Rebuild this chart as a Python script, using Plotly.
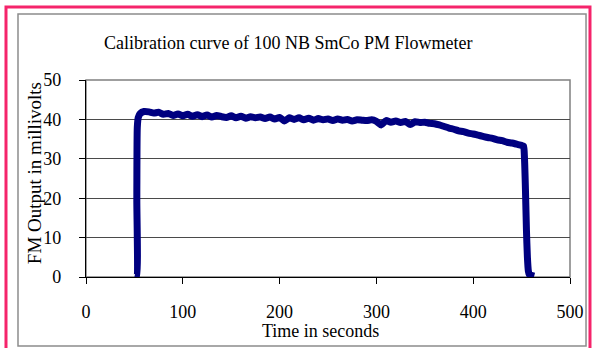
import plotly.graph_objects as go

# ---- data ----
time_s = [50, 52, 52.5, 53, 54, 56,
          60, 65, 70, 75, 80, 85, 90, 95, 100, 105, 110, 115, 120, 125, 130, 135,
          140, 145, 150, 155, 160, 165, 170, 175, 180, 185, 190, 195, 200, 205,
          210, 215, 220, 225, 230, 235, 240, 245, 250, 255, 260, 265, 270, 275,
          280, 285, 290, 295, 300, 305, 310, 315, 320, 325, 330, 335, 340, 345,
          350, 355, 360, 365, 370, 375, 380, 385, 390, 395, 400, 405, 410, 415,
          420, 425, 430, 435, 440, 445, 450,
          452, 453, 454, 455, 456, 457, 458, 460, 463]
output_mv = [0, 0, 20, 38, 40.5, 41.5,
             42.0, 41.9, 41.6, 41.8, 41.3, 41.5, 41.0, 41.4, 40.9, 41.3, 40.8, 41.2, 40.7, 41.1, 40.6, 41.0,
             40.7, 40.5, 40.9, 40.4, 40.8, 40.3, 40.7, 40.4, 40.6, 40.2, 40.6, 40.1, 40.5, 39.6,
             40.4, 40.0, 40.4, 39.9, 40.3, 39.8, 40.2, 39.9, 40.1, 39.7, 40.1, 39.8, 40.0, 39.6,
             39.9, 39.8, 39.7, 39.9, 39.5, 38.6, 39.7, 39.3, 39.6, 39.2, 39.5, 38.7, 39.4, 39.2,
             39.3, 39.0, 38.9, 38.6, 38.2, 37.8, 37.5, 37.1, 36.9, 36.5, 36.3, 36.0, 35.7, 35.4,
             35.2, 34.8, 34.6, 34.2, 34.0, 33.7, 33.4,
             33.2, 30.0, 22.0, 12.0, 5.0, 1.5, 0.6, 0.4, 0.2]
x_ticks = [0, 100, 200, 300, 400, 500]
y_ticks = [0, 10, 20, 30, 40, 50]

title_text = "Calibration curve of 100 NB SmCo PM Flowmeter"
x_title = "Time in seconds"
y_title = "FM Output in millivolts"

FONT = "Liberation Serif"

fig = go.Figure()
fig.add_trace(go.Scatter(
    x=time_s, y=output_mv, mode="lines",
    line=dict(color="#000080", width=7, shape="spline", smoothing=0.6),
    showlegend=False, hoverinfo="skip",
))

fig.update_layout(
    width=595, height=348,
    margin=dict(l=86, r=25, t=80, b=71),
    paper_bgcolor="white", plot_bgcolor="white",
    font=dict(family=FONT, size=18, color="black"),
    xaxis=dict(
        range=[0, 500], tickvals=x_ticks, ticktext=[str(v) for v in x_ticks],
        showgrid=False, zeroline=False,
        showline=True, linecolor="black", linewidth=1.2,
        ticks="outside", ticklen=6, tickcolor="black",
        ticklabelstandoff=12,
        tickfont=dict(family=FONT, size=18, color="black"),
    ),
    yaxis=dict(
        range=[0, 50], tickvals=y_ticks, ticktext=[str(v) for v in y_ticks],
        showgrid=True, gridcolor="#4a4a4a", gridwidth=1, zeroline=False,
        showline=True, linecolor="black", linewidth=1.2,
        ticks="outside", ticklen=6, tickcolor="black",
        ticklabelstandoff=14,
        tickfont=dict(family=FONT, size=18, color="black"),
    ),
    shapes=[
        dict(type="rect", xref="paper", yref="paper", x0=0, x1=1, y0=0, y1=1,
             line=dict(color="#808080", width=1.5), layer="below"),
        dict(type="rect", xref="paper", yref="paper",
             x0=-0.1405, x1=1.0331, y0=-0.3503, y1=1.335,
             line=dict(color="#8c8c8c", width=1.5)),
        dict(type="rect", xref="paper", yref="paper",
             x0=-0.1653, x1=1.0413, y0=-0.385, y1=1.3706,
             line=dict(color="#f5246b", width=3)),
    ],
    annotations=[
        dict(text=title_text, xref="paper", yref="paper", x=0.417, y=1.188,
             xanchor="center", yanchor="middle", showarrow=False,
             font=dict(family=FONT, size=18, color="black")),
        dict(text=x_title, xref="paper", yref="paper", x=0.4835, y=-0.272,
             xanchor="center", yanchor="middle", showarrow=False,
             font=dict(family=FONT, size=18, color="black")),
        dict(text=y_title, xref="paper", yref="paper", x=-0.105, y=0.528,
             xanchor="center", yanchor="middle", showarrow=False, textangle=-90,
             font=dict(family=FONT, size=19, color="black")),
    ],
)

fig.write_html("out.html")
